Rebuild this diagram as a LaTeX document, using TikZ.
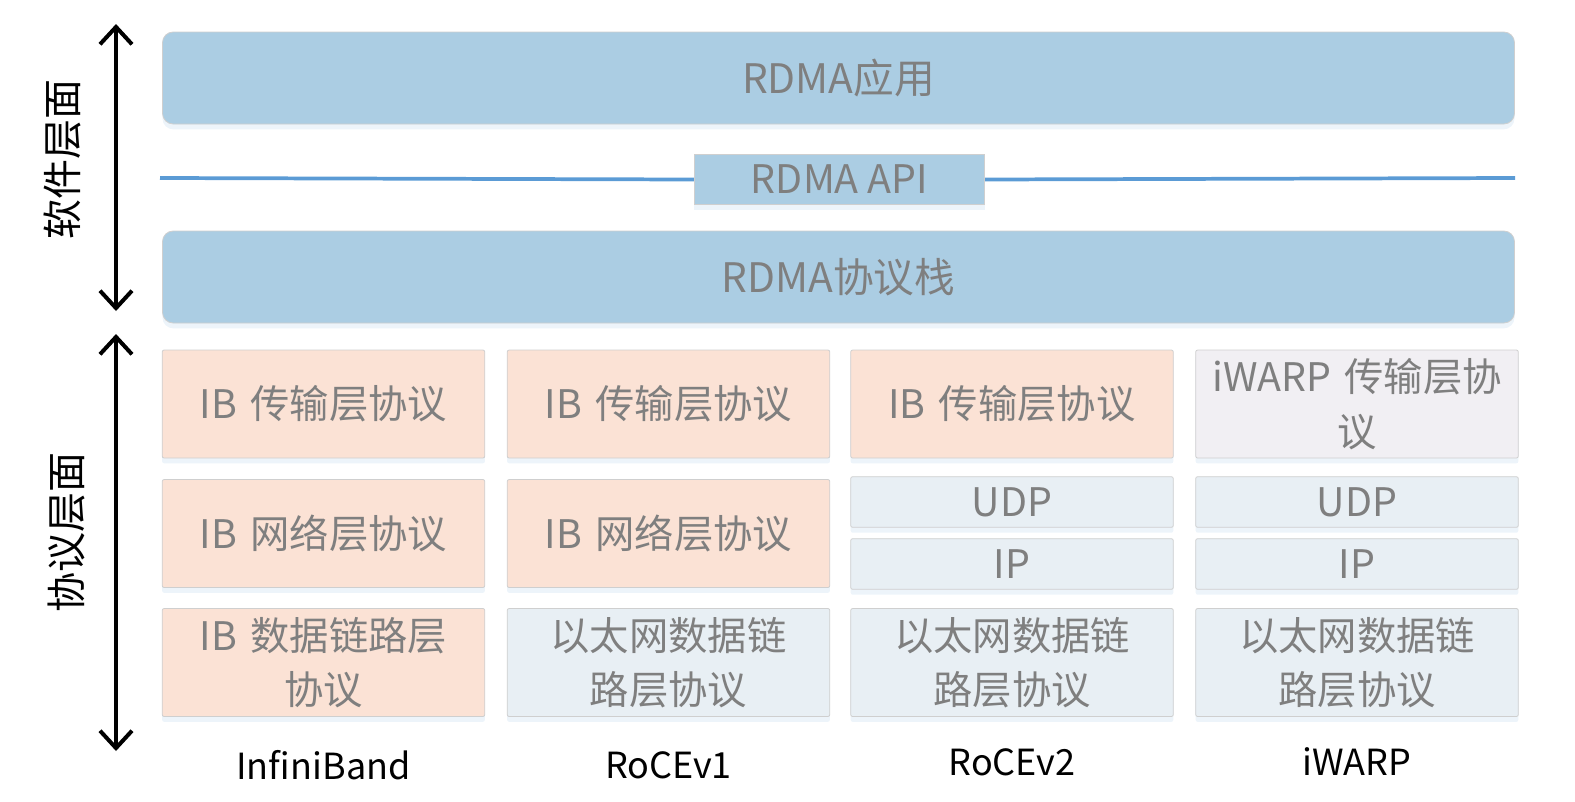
\documentclass[tikz,border=0pt]{standalone}
\usepackage{fontspec}
\setmainfont{Noto Sans CJK SC}
\usetikzlibrary{arrows.meta,shadows}

\definecolor{appblue}{HTML}{ABCDE3}
\definecolor{ibpeach}{HTML}{FBE2D5}
\definecolor{ethgray}{HTML}{E8EFF4}
\definecolor{iwgray}{HTML}{F1EFF3}
\definecolor{txtgray}{HTML}{7F7F7F}
\definecolor{apiline}{HTML}{5B9BD5}
\definecolor{edgegray}{HTML}{CFCFCF}

\tikzset{
  layer/.style={draw=edgegray, line width=0.6pt, text=txtgray, align=center, inner sep=0pt,
    font=\fontsize{29.5}{41}\selectfont,
    drop shadow={shadow xshift=0pt, shadow yshift=-4pt, fill=apiline!25, opacity=0.45}},
  wide/.style={layer, fill=appblue, rounded corners=8pt, minimum width=1014pt, minimum height=69pt,
    font=\fontsize{30.5}{41}\selectfont},
  cell/.style={layer, rounded corners=1.5pt, minimum width=242pt, minimum height=81pt, text width=236pt},
  ib/.style={cell, fill=ibpeach},
  eth/.style={cell, fill=ethgray},
  plane/.style={font=\fontsize{30}{34}\selectfont, rotate=90},
  stackname/.style={font=\fontsize{27}{34}\selectfont},
  span/.style={line width=3pt, {Straight Barb[length=13pt,width=24pt,line width=3pt]}-{Straight Barb[length=13pt,width=24pt,line width=3pt]}}
}

\begin{document}
\begin{tikzpicture}[x=0.75pt,y=0.75pt,yscale=-1,xscale=1]
\useasboundingbox (0,0) rectangle (1575,801);

% software part
\node [wide] (app) at (838.5,78) {RDMA应用};
\coordinate (lineL) at (160,178);
\coordinate (lineR) at (1515,178);
\node [layer, fill=appblue, minimum width=218pt, minimum height=38pt] (api) at (839.5,179.5) {RDMA API};
\draw [apiline, line width=2.8pt] (lineL) -- (api.west);
\draw [apiline, line width=2.8pt] (api.east) -- (lineR);
\node [wide] (stack) at (838.5,277) {RDMA协议栈};

% InfiniBand
\node [ib] (ibT) at (323.5,404) {IB 传输层协议};
\node [ib] (ibN) at (323.5,533.5) {IB 网络层协议};
\node [ib] (ibL) at (323.5,662.5) {IB 数据链路层\\协议};
% RoCEv1
\node [ib] (r1T) at (668.5,404) {IB 传输层协议};
\node [ib] (r1N) at (668.5,533.5) {IB 网络层协议};
\node [eth] (r1L) at (668.5,662.5) {以太网数据链\\路层协议};
% RoCEv2
\node [ib] (r2T) at (1012,404) {IB 传输层协议};
\node [eth, minimum height=38pt] (r2U) at (1012,502) {UDP};
\node [eth, minimum height=38pt] (r2I) at (1012,564) {IP};
\node [eth] (r2L) at (1012,662.5) {以太网数据链\\路层协议};
% iWARP
\node [cell, fill=iwgray] (iwT) at (1357,404) {iWARP 传输层协\\议};
\node [eth, minimum height=38pt] (iwU) at (1357,502) {UDP};
\node [eth, minimum height=38pt] (iwI) at (1357,564) {IP};
\node [eth] (iwL) at (1357,662.5) {以太网数据链\\路层协议};

% column names
\node [stackname] (nIB) at (323.5,765) {InfiniBand};
\node [stackname] (nR1) at (668.5,765) {RoCEv1};
\node [stackname] (nR2) at (1012,762) {RoCEv2};
\node [stackname] (nIW) at (1357,762) {iWARP};

% planes
\coordinate (swTop) at (116,24);
\coordinate (swBot) at (116,311);
\coordinate (prTop) at (116,334);
\coordinate (prBot) at (116,751);
\draw [span] (swTop) -- (swBot);
\draw [span] (prTop) -- (prBot);
\node [plane] (sw) at (62,159) {软件层面};
\node [plane] (pr) at (66,532) {协议层面};
\end{tikzpicture}
\end{document}
